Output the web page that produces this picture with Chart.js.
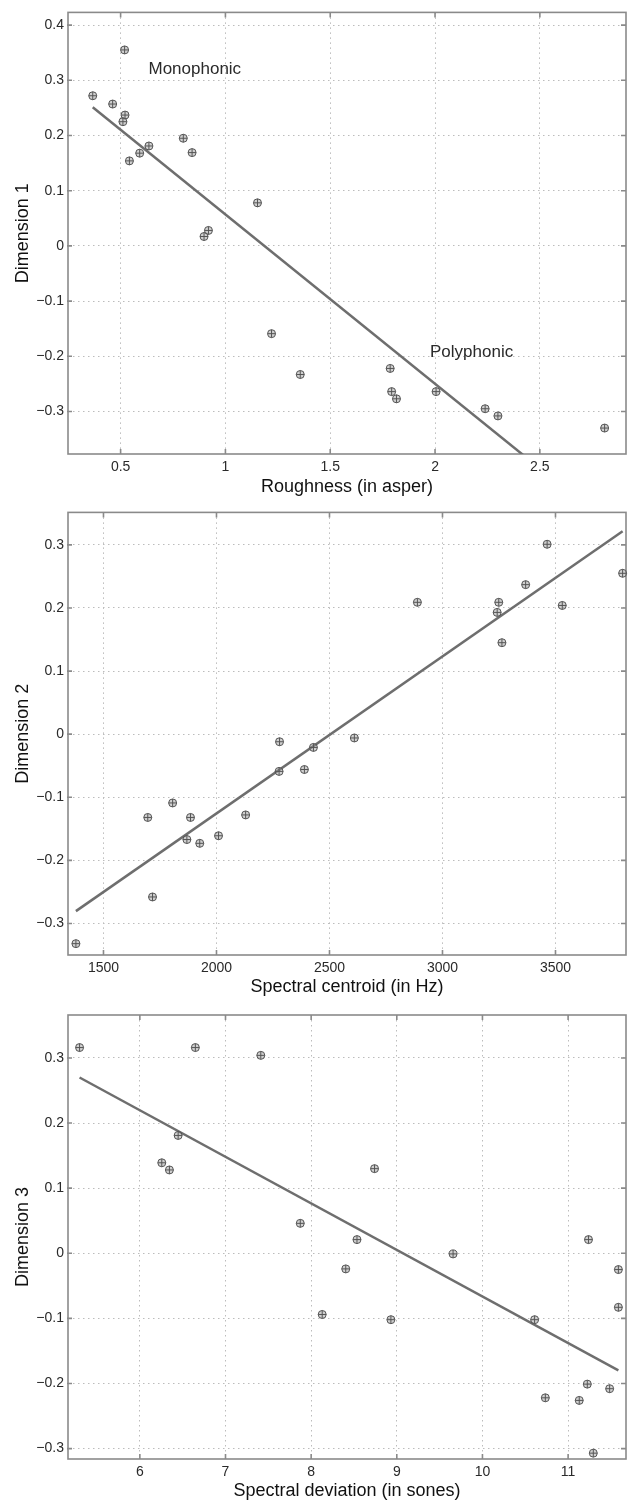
<!DOCTYPE html>
<html>
<head>
<meta charset="utf-8">
<script src="https://cdn.jsdelivr.net/npm/chart.js@4.4.1/dist/chart.umd.min.js"></script>
<style>
  body { margin: 0; background: #fff; }
  .panel { position: absolute; left: 0; width: 631px; }
</style>
</head>
<body>
<div class="panel" style="top:0;height:500px"><canvas id="chart1"></canvas></div>
<div class="panel" style="top:500px;height:500px"><canvas id="chart2"></canvas></div>
<div class="panel" style="top:1000px;height:502px"><canvas id="chart3"></canvas></div>
<script>
// --- panel 1: roughness vs dimension 1
const roughness = [0.519, 0.367, 0.462, 0.521, 0.511, 0.542, 0.591, 0.635, 0.799, 0.841, 1.153,
                   0.919, 0.898, 1.22, 1.357, 1.786, 1.793, 1.816, 2.005, 2.239, 2.3, 2.809];
const dim1 = [0.355, 0.272, 0.257, 0.237, 0.225, 0.154, 0.168, 0.181, 0.195, 0.169, 0.078,
              0.028, 0.017, -0.159, -0.233, -0.222, -0.264, -0.277, -0.264, -0.295, -0.308, -0.330];
const fit1X = [0.367, 2.809];
const fit1Y = [0.251, -0.498];
const xTicks1 = [0.5, 1, 1.5, 2, 2.5];
const yTicks1 = [-0.3, -0.2, -0.1, 0, 0.1, 0.2, 0.3, 0.4];
const notes1 = ["Monophonic", "Polyphonic"];
const notes1X = [0.633, 1.976];
const notes1Y = [0.32, -0.192];

// --- panel 2: spectral centroid vs dimension 2
const centroid = [3463, 3797, 3368, 2889, 3249, 3242, 3530, 3263, 2610, 2279, 2429,
                  2277, 2389, 1806, 1696, 1885, 2129, 2009, 1869, 1926, 1717, 1378];
const dim2 = [0.301, 0.255, 0.237, 0.209, 0.209, 0.193, 0.204, 0.145, -0.006, -0.012, -0.021,
              -0.059, -0.056, -0.109, -0.132, -0.132, -0.128, -0.161, -0.167, -0.173, -0.258, -0.332];
const fit2X = [1378, 3797];
const fit2Y = [-0.2805, 0.3216];
const xTicks2 = [1500, 2000, 2500, 3000, 3500];
const yTicks2 = [-0.3, -0.2, -0.1, 0, 0.1, 0.2, 0.3];

// --- panel 3: spectral deviation vs dimension 3
const deviation = [5.296, 6.648, 7.412, 6.447, 6.256, 6.345, 8.74, 7.873, 8.535, 11.238, 9.657,
                   8.404, 11.587, 11.587, 8.129, 8.931, 10.609, 11.224, 11.485, 10.734, 11.13, 11.294];
const dim3 = [0.316, 0.316, 0.304, 0.181, 0.139, 0.128, 0.130, 0.046, 0.021, 0.021, -0.001,
              -0.024, -0.025, -0.083, -0.094, -0.102, -0.102, -0.201, -0.208, -0.222, -0.226, -0.307];
const fit3X = [5.296, 11.587];
const fit3Y = [0.270, -0.180];
const xTicks3 = [6, 7, 8, 9, 10, 11];
const yTicks3 = [-0.3, -0.2, -0.1, 0, 0.1, 0.2, 0.3];

const FONT = "'Liberation Sans', Arial, Helvetica, sans-serif";
const TEXT = "#2a2a2a";
const FRAME = "#8a8a8a";
const GRID = "#bcbcbc";
const LINE = "#6e6e6e";
const MARK = "#555";

// frame box, inward tick marks and text notes
const framePlugin = {
  id: "frame",
  beforeDatasetsDraw(chart) {
    const { ctx, chartArea: a, scales: { x, y } } = chart;
    ctx.save();
    ctx.strokeStyle = FRAME;
    ctx.lineWidth = 1.6;
    ctx.strokeRect(a.left, a.top, a.right - a.left, a.bottom - a.top);
    ctx.beginPath();
    x.ticks.forEach(t => {
      const px = x.getPixelForValue(t.value);
      ctx.moveTo(px, a.top); ctx.lineTo(px, a.top + 5);
      ctx.moveTo(px, a.bottom); ctx.lineTo(px, a.bottom - 5);
    });
    y.ticks.forEach(t => {
      const py = y.getPixelForValue(t.value);
      ctx.moveTo(a.left - 1, py); ctx.lineTo(a.left + 4, py);
      ctx.moveTo(a.right, py); ctx.lineTo(a.right - 5, py);
    });
    ctx.stroke();
    ctx.restore();
  },
  afterDatasetsDraw(chart, args, opts) {
    if (!opts.text) return;
    const { ctx, scales: { x, y } } = chart;
    ctx.save();
    ctx.font = "17px " + FONT;
    ctx.fillStyle = TEXT;
    ctx.textAlign = "left";
    ctx.textBaseline = "middle";
    opts.text.forEach((s, i) => {
      ctx.fillText(s, x.getPixelForValue(opts.x[i]), y.getPixelForValue(opts.y[i]));
    });
    ctx.restore();
  }
};

function fmt(v) {
  return String(v).replace("-", "\u2212");
}

function makeChart(id, c) {
  const pts = c.x.map((v, i) => ({ x: v, y: c.y[i] }));
  const fit = c.fitX.map((v, i) => ({ x: v, y: c.fitY[i] }));
  return new Chart(document.getElementById(id), {
    type: "scatter",
    data: {
      datasets: [
        { data: pts, pointStyle: "cross", pointRadius: 4, borderColor: MARK, borderWidth: 1, clip: false },
        { data: pts, pointStyle: "circle", pointRadius: 4, backgroundColor: "rgba(150,150,150,0.45)",
          borderColor: MARK, borderWidth: 1, clip: false },
        { type: "line", data: fit, showLine: true, borderColor: LINE, borderWidth: 2.5,
          pointRadius: 0, fill: false }
      ]
    },
    options: {
      responsive: true,
      maintainAspectRatio: false,
      animation: false,
      events: [],
      layout: { padding: { top: c.padTop, right: 2, left: 0, bottom: 0 } },
      plugins: {
        legend: { display: false },
        tooltip: { enabled: false },
        frame: c.notes || {}
      },
      scales: {
        x: {
          type: "linear",
          min: c.xMin,
          max: c.xMax,
          afterBuildTicks: s => { s.ticks = c.xTicks.map(v => ({ value: v })); },
          afterFit: s => { s.height = c.axisH; },
          grid: { color: GRID, lineWidth: 1, drawTicks: false },
          border: { display: false, dash: [1.5, 3.5] },
          ticks: { color: TEXT, font: { family: FONT, size: 14 }, padding: 5, maxRotation: 0,
                   callback: v => fmt(v) },
          title: { display: true, text: c.xTitle, color: "#111",
                   font: { family: FONT, size: 18 }, padding: { top: 0, bottom: c.titlePad } }
        },
        y: {
          type: "linear",
          min: c.yMin,
          max: c.yMax,
          afterBuildTicks: s => { s.ticks = c.yTicks.map(v => ({ value: v })); },
          afterFit: s => { s.width = 68; },
          grid: { color: GRID, lineWidth: 1, drawTicks: false },
          border: { display: false, dash: [1.5, 3.5] },
          ticks: { color: TEXT, font: { family: FONT, size: 14 }, padding: 4,
                   callback: v => fmt(v) },
          title: { display: true, text: c.yTitle, color: "#111",
                   font: { family: FONT, size: 18 }, padding: { top: 12, bottom: 0 } }
        }
      }
    },
    plugins: [framePlugin]
  });
}

makeChart("chart1", {
  x: roughness, y: dim1, fitX: fit1X, fitY: fit1Y,
  xMin: 0.249, xMax: 2.911, yMin: -0.377, yMax: 0.423,
  xTicks: xTicks1, yTicks: yTicks1,
  xTitle: "Roughness (in asper)", yTitle: "Dimension 1",
  padTop: 12, axisH: 46, titlePad: 2,
  notes: { text: notes1, x: notes1X, y: notes1Y }
});

makeChart("chart2", {
  x: centroid, y: dim2, fitX: fit2X, fitY: fit2Y,
  xMin: 1343, xMax: 3812, yMin: -0.35, yMax: 0.3515,
  xTicks: xTicks2, yTicks: yTicks2,
  xTitle: "Spectral centroid (in Hz)", yTitle: "Dimension 2",
  padTop: 12, axisH: 45, titlePad: 2
});

makeChart("chart3", {
  x: deviation, y: dim3, fitX: fit3X, fitY: fit3Y,
  xMin: 5.161, xMax: 11.676, yMin: -0.316, yMax: 0.366,
  xTicks: xTicks3, yTicks: yTicks3,
  xTitle: "Spectral deviation (in sones)", yTitle: "Dimension 3",
  padTop: 15, axisH: 43, titlePad: 0
});
</script>
</body>
</html>
